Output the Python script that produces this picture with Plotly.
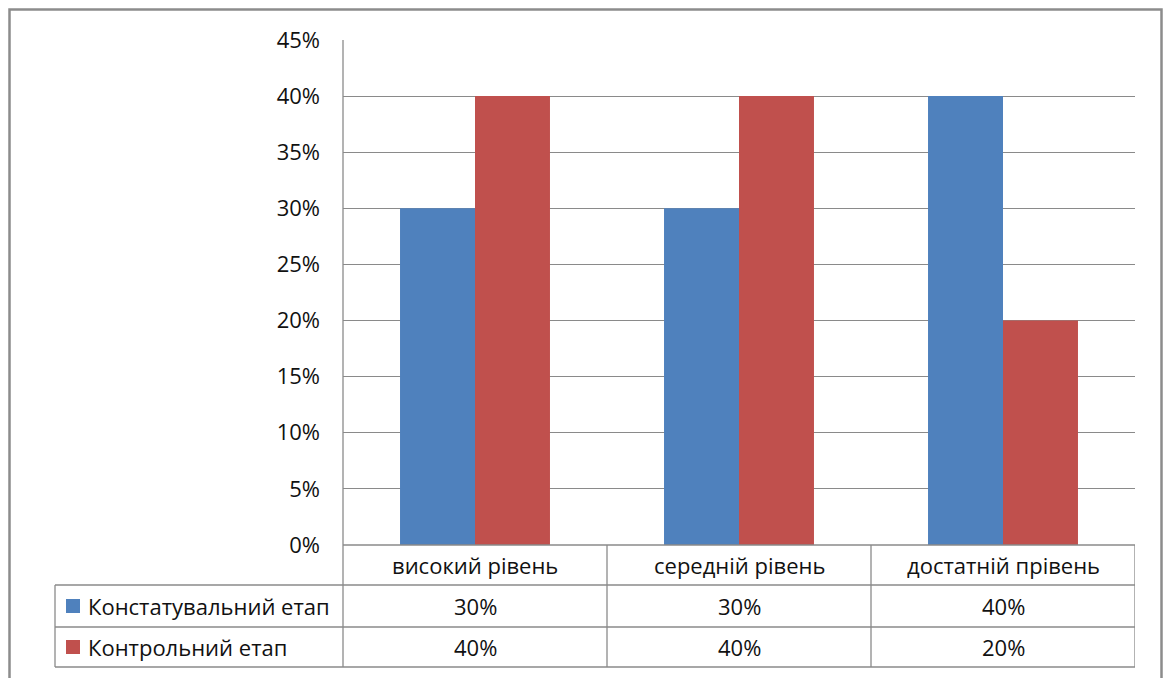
import plotly.graph_objects as go

categories = ["високий рівень", "середній рівень", "достатній прівень"]
series_names = ["Констатувальний етап", "Контрольний етап"]
konst_values = [30, 30, 40]
kontr_values = [40, 40, 20]
y_ticks = [0, 5, 10, 15, 20, 25, 30, 35, 40, 45]

W, H = 1171, 678
BLUE = "#4F81BD"
RED = "#C0504D"
GRID = "#8a8a8a"
FONT = "Open Sans"
FS = 22
TXT = "#111111"


def fx(px):
    return px / W


def fy(py):
    return 1 - py / H


fig = go.Figure()
fig.add_trace(go.Bar(x=categories, y=konst_values, name=series_names[0],
                     marker=dict(color=BLUE, line=dict(width=0))))
fig.add_trace(go.Bar(x=categories, y=kontr_values, name=series_names[1],
                     marker=dict(color=RED, line=dict(width=0))))

PL, PR, PT, PB = 343, 1135, 40, 545
ROWS = [545, 585, 627, 667]
TL = 55

shapes = []
line = dict(color=GRID, width=1.3)
# outer frame
shapes.append(dict(type="rect", xref="paper", yref="paper",
                   x0=fx(9.5), x1=fx(1161.5), y0=fy(9.5), y1=fy(720),
                   line=dict(color="#8c8c8c", width=2.5)))
# vertical axis line extended through table
shapes.append(dict(type="line", xref="paper", yref="paper",
                   x0=fx(PL), x1=fx(PL), y0=fy(PT), y1=fy(ROWS[-1]), line=line))
# horizontal table lines
shapes.append(dict(type="line", xref="paper", yref="paper",
                   x0=fx(PL), x1=fx(PR), y0=fy(ROWS[0]), y1=fy(ROWS[0]), line=line))
for r in ROWS[1:]:
    shapes.append(dict(type="line", xref="paper", yref="paper",
                       x0=fx(TL), x1=fx(PR), y0=fy(r), y1=fy(r), line=line))
# table vertical lines
shapes.append(dict(type="line", xref="paper", yref="paper",
                   x0=fx(TL), x1=fx(TL), y0=fy(ROWS[1]), y1=fy(ROWS[-1]), line=line))
for i in range(1, len(categories) + 1):
    xv = i - 0.5
    shapes.append(dict(type="line", xref="x", yref="paper",
                       x0=xv, x1=xv, y0=fy(ROWS[0]), y1=fy(ROWS[-1]), line=line))
# legend keys
for k, col in enumerate([BLUE, RED]):
    yc = (ROWS[k + 1] + ROWS[k + 2]) / 2
    shapes.append(dict(type="rect", xref="paper", yref="paper",
                       x0=fx(66), x1=fx(80), y0=fy(yc - 7), y1=fy(yc + 7),
                       fillcolor=col, line=dict(width=0)))

annotations = []
font = dict(family=FONT, size=FS, color=TXT)
for c in categories:
    annotations.append(dict(x=c, xref="x", y=fy((ROWS[0] + ROWS[1]) / 2), yref="paper",
                            text=c, showarrow=False, font=font,
                            xanchor="center", yanchor="middle"))
for k, (name, vals) in enumerate(zip(series_names, [konst_values, kontr_values])):
    yc = (ROWS[k + 1] + ROWS[k + 2]) / 2
    annotations.append(dict(x=fx(86), xref="paper", y=fy(yc), yref="paper",
                            text=name, showarrow=False, font=font,
                            xanchor="left", yanchor="middle"))
    for c, v in zip(categories, vals):
        annotations.append(dict(x=c, xref="x", y=fy(yc), yref="paper",
                                text=f"{v}%", showarrow=False, font=font,
                                xanchor="center", yanchor="middle"))

fig.update_layout(
    width=W, height=H,
    margin=dict(l=0, r=0, t=0, b=0, autoexpand=False),
    paper_bgcolor="white", plot_bgcolor="white",
    barmode="group", bargap=0.432, bargroupgap=0,
    showlegend=False,
    font=dict(family=FONT, size=FS, color=TXT),
    xaxis=dict(domain=[fx(PL), fx(PR)], range=[-0.5, 2.5], automargin=False,
               showticklabels=False, showgrid=False, zeroline=False,
               showline=False, ticks=""),
    yaxis=dict(domain=[fy(PB), fy(PT)], range=[0, 45], automargin=False,
               tickvals=y_ticks, ticktext=[f"{t}%" for t in y_ticks],
               showgrid=True, gridcolor=GRID, gridwidth=1.3,
               zeroline=False, showline=False, ticks="",
               ticklabelstandoff=22,
               tickfont=dict(family=FONT, size=FS, color=TXT)),
    shapes=shapes,
    annotations=annotations,
)

fig.write_html(
    "out.html",
    config={"displayModeBar": False},
    post_script="document.body.style.margin='0';document.body.style.overflow='hidden';",
)
